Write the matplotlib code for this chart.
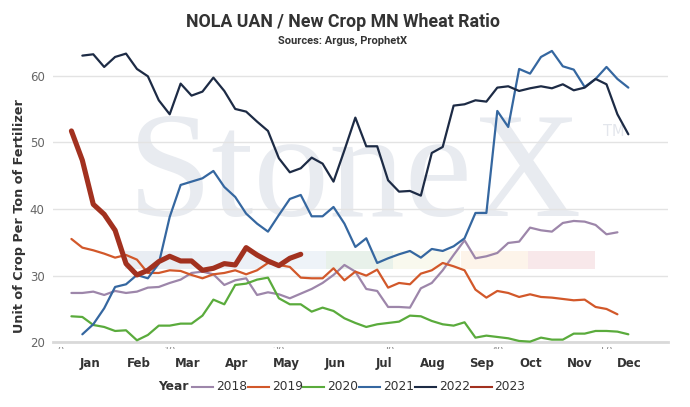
import matplotlib
matplotlib.use("Agg")
import matplotlib.pyplot as plt
from matplotlib.lines import Line2D
from matplotlib.patches import Rectangle
import numpy as np

# ---------------- data ----------------
years = ["2018", "2019", "2020", "2021", "2022", "2023"]
first_week = [1, 1, 1, 2, 2, 1]

v2018 = [27.4, 27.4, 27.6, 27.1, 27.7, 27.4, 27.6, 28.2, 28.3, 28.9,
         29.4, 30.4, 30.6, 30.2, 28.6, 29.3, 29.6, 27.1, 27.5, 27.2,
         26.6, 27.3, 28.0, 28.9, 30.1, 31.6, 30.6, 28.0, 27.7, 25.3,
         25.3, 25.2, 28.1, 28.9, 30.8, 33.1, 35.3, 32.6, 32.9, 33.4,
         34.9, 35.1, 37.2, 36.8, 36.6, 37.9, 38.2, 38.1, 37.6, 36.2, 36.5]
v2019 = [35.5, 34.2, 33.8, 33.3, 32.7, 33.1, 32.4, 30.4, 30.4, 30.8,
         30.7, 30.1, 29.6, 30.2, 30.4, 30.8, 30.2, 30.8, 31.9, 31.6,
         31.3, 29.7, 29.6, 29.6, 31.1, 29.3, 30.6, 30.0, 30.9, 28.2,
         28.9, 28.7, 30.3, 30.8, 31.9, 31.4, 30.8, 27.9, 26.7, 27.7,
         27.4, 26.8, 27.2, 26.8, 26.7, 26.5, 26.3, 26.4, 25.3, 25.0, 24.2]
v2020 = [23.9, 23.8, 22.6, 22.3, 21.7, 21.8, 20.3, 21.1, 22.5, 22.5,
         22.8, 22.8, 24.0, 26.4, 25.7, 28.6, 28.8, 29.4, 29.7, 26.6,
         25.7, 25.7, 24.6, 25.2, 24.7, 23.6, 22.9, 22.3, 22.7, 22.9,
         23.1, 24.0, 23.9, 23.2, 22.7, 22.5, 23.0, 20.7, 21.0, 20.8,
         20.6, 20.2, 20.1, 20.7, 20.4, 20.4, 21.3, 21.3, 21.7, 21.7,
         21.6, 21.2]
v2021 = [21.2, 22.7, 25.1, 28.3, 28.7, 30.1, 29.6, 31.8, 38.8, 43.6,
         44.1, 44.6, 45.7, 43.3, 41.8, 39.3, 37.8, 36.6, 39.1, 41.5,
         42.1, 38.9, 38.9, 40.3, 37.8, 34.3, 35.6, 31.9, 32.6, 33.2,
         33.7, 32.7, 34.0, 33.7, 34.4, 35.6, 39.4, 39.4, 54.7, 52.3,
         61.0, 60.3, 62.8, 63.7, 61.4, 60.9, 58.3, 59.5, 61.3, 59.5, 58.2]
v2022 = [63.0, 63.2, 61.3, 62.8, 63.3, 61.0, 59.9, 56.3, 54.2, 58.8,
         57.0, 57.6, 59.7, 57.7, 55.0, 54.6, 53.1, 51.7, 47.6, 45.5,
         46.1, 47.7, 46.8, 44.1, 48.8, 53.7, 49.4, 49.4, 44.3, 42.6,
         42.7, 42.0, 48.4, 49.3, 55.5, 55.7, 56.3, 56.1, 58.2, 58.4,
         57.7, 58.1, 58.4, 58.1, 58.7, 57.8, 58.2, 59.5, 58.7, 54.2, 51.2]
v2023 = [51.7, 47.3, 40.7, 39.2, 36.8, 31.8, 30.1, 30.8, 32.1, 32.9,
         32.2, 32.2, 30.8, 31.1, 31.8, 31.6, 34.2, 33.1, 32.2, 31.5,
         32.6, 33.2]

months = ["Jan", "Feb", "Mar", "Apr", "May", "Jun",
          "Jul", "Aug", "Sep", "Oct", "Nov", "Dec"]
week_labels = ["0", "10", "20", "30", "40", "50"]
y_ticks = [20, 30, 40, 50, 60]

title = "NOLA UAN / New Crop MN Wheat Ratio"
subtitle = "Sources: Argus, ProphetX"
ylabel = "Unit of Crop Per Ton of Fertilizer"

# ---------------- style ----------------
series_vals = [v2018, v2019, v2020, v2021, v2022, v2023]
colors = ["#9d86aa", "#d2582a", "#5aab3c", "#3567a0", "#1d2b45", "#a2311f"]
widths = [1.6, 1.6, 1.6, 1.6, 1.6, 3.7]

W, H = 690, 407
fig = plt.figure(figsize=(W / 100, H / 100), dpi=100)
fig.patch.set_facecolor("white")


def fx(px):
    return px / W


def fy(py):
    return 1 - py / H


ax_l, ax_r, ax_t, ax_b = 53, 668, 45, 342.3
ax = fig.add_axes([fx(ax_l), fy(ax_b), (ax_r - ax_l) / W, (ax_b - ax_t) / H])
x_per_px = 1 / 10.92
x0 = 60.5
ax.set_xlim((ax_l - x0) * x_per_px, (ax_r - x0) * x_per_px)
ax.set_ylim(20, 20 + (ax_b - ax_t) / 6.667)
ax.patch.set_visible(False)

# watermark
ax.text(fx(128), fy(216), "StoneX", transform=fig.transFigure,
        fontsize=109, family="Liberation Serif", color="#e8ebf0",
        ha="left", va="baseline", zorder=0.2, clip_on=False)
ax.text(fx(603), fy(131), "TM", transform=fig.transFigure,
        fontsize=10.5, family="DejaVu Sans", color="#e3e6ec",
        ha="left", va="center", zorder=0.2)
band_cols = ["#e9edf3", "#ecf0f6", "#eef3f8", "#e8f1ea",
             "#f9f9ee", "#fdf4ea", "#f8e8ea"]
for i, c in enumerate(band_cols):
    x_a = 125 + i * 67.1
    ax.add_patch(Rectangle((fx(x_a), fy(269)), 67.1 / W, 18 / H,
                           transform=fig.transFigure, facecolor=c,
                           edgecolor="none", zorder=0.3))

# grid / axes
ax.set_yticks(y_ticks)
ax.grid(axis="y", color="#e3e3e3", lw=1.0, zorder=0.5)
ax.set_axisbelow(True)
for s in ["top", "right", "left"]:
    ax.spines[s].set_visible(False)
ax.spines["bottom"].set_color("#d9d9d9")
ax.spines["bottom"].set_linewidth(2.0)
ax.tick_params(axis="y", length=0, pad=6, labelsize=8.5, labelcolor="#666666")

month_pos = [(90 + 49 * i - x0) * x_per_px for i in range(12)]
ax.set_xticks(month_pos)
ax.set_xticklabels(months, fontsize=8.5, fontweight="bold", color="#333333",
                   family="DejaVu Sans")
ax.tick_params(axis="x", length=0, pad=10.5)

# partially hidden week labels (only their tops peek out)
clip = Rectangle((0, fy(349.3)), 1, 2.3 / H, transform=fig.transFigure)
for i, lab in enumerate(week_labels):
    t = fig.text(fx(x0 + 10.92 * 10 * i), fy(350.5), lab, ha="center",
                 va="center", fontsize=7, color="#888888")
    t.set_clip_path(clip)

# series
for yr, fw, vals, c, lw in zip(years, first_week, series_vals, colors, widths):
    wk = np.arange(fw, fw + len(vals))
    ax.plot(wk, vals, color=c, lw=lw, solid_joinstyle="round",
            solid_capstyle="round", zorder=3, clip_on=False)

# titles
fig.text(fx(343.5), fy(22), title, ha="center", va="center",
         fontsize=12.8, fontweight="bold", color="#333333", family="Roboto")
fig.text(fx(343), fy(41), subtitle, ha="center", va="center",
         fontsize=8.0, fontweight="bold", color="#333333", family="Roboto")
fig.text(fx(20), fy(216), ylabel, ha="center", va="center", rotation=90,
         fontsize=9.2, fontweight="bold", color="#333333", family="DejaVu Sans")

# legend
ly = 387
fig.text(fx(158), fy(ly), "Year", ha="left", va="center", fontsize=8.8,
         fontweight="bold", color="#333333")
for i, (yr, c) in enumerate(zip(years, colors)):
    xa = 192 + 55.7 * i
    fig.add_artist(Line2D([fx(xa), fx(xa + 21)], [fy(ly), fy(ly)],
                          transform=fig.transFigure, color=c, lw=1.5))
    fig.text(fx(xa + 24), fy(ly), yr, ha="left", va="center", fontsize=8.8,
             color="#333333")

fig.savefig("out.png", dpi=100)
